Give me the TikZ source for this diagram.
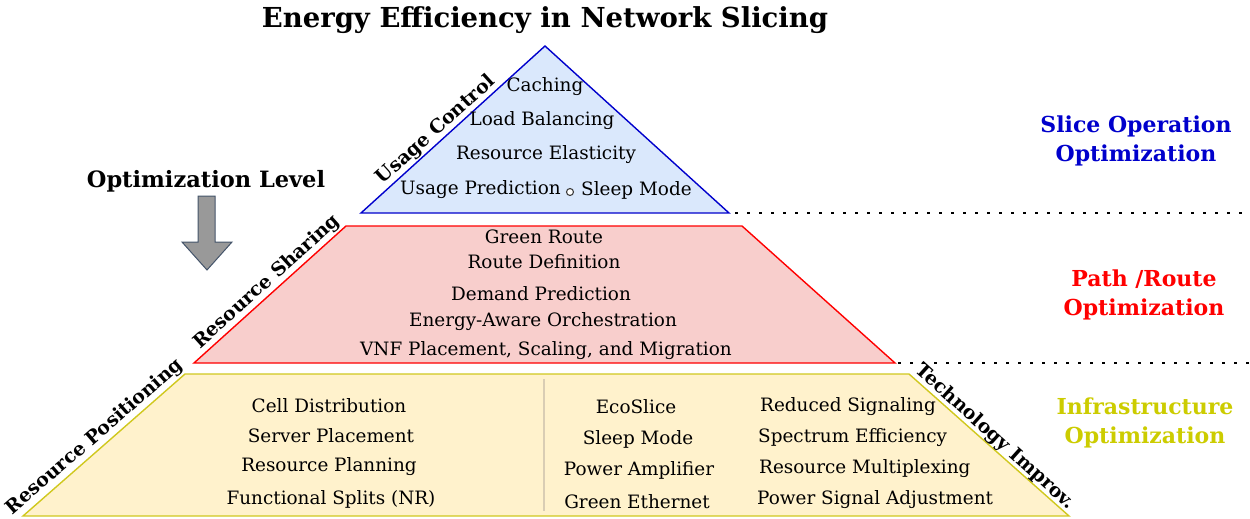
\documentclass[tikz,border=0pt]{standalone}
\usepackage{fontspec}
\setmainfont{DejaVu Serif}
\definecolor{blueline}{RGB}{0,0,204}
\definecolor{bluefill}{RGB}{218,232,252}
\definecolor{redline}{RGB}{255,0,0}
\definecolor{redfill}{RGB}{248,206,204}
\definecolor{yelline}{RGB}{208,200,30}
\definecolor{yelfill}{RGB}{255,242,204}
\definecolor{yeltext}{RGB}{204,204,0}
\definecolor{divider}{RGB}{217,205,180}
\definecolor{arrowfill}{RGB}{153,153,153}
\definecolor{arrowline}{RGB}{68,84,106}
\begin{document}
\begin{tikzpicture}[x=1pt,y=-1pt,
  item/.style={font=\fontsize{18.4}{21}\selectfont, inner sep=0pt},
  boldlabel/.style={font=\fontsize{19}{22}\selectfont\bfseries, inner sep=0pt},
  sidelabel/.style={font=\fontsize{22}{29}\selectfont\bfseries, align=center, inner sep=0pt},
  dotline/.style={line width=2.8pt, dash pattern=on 2.8pt off 9.2pt}
]
\useasboundingbox (0,0) rectangle (1250,519);

% title
\node[font=\fontsize{27.5}{32}\selectfont\bfseries, inner sep=0pt] (title) at (545,20) {Energy Efficiency in Network Slicing};

% tiers
\draw[blueline, fill=bluefill, line width=1.4pt] (361,213) -- (545,46) -- (729,213) -- cycle;
\draw[redline, fill=redfill, line width=1.4pt] (346,226) -- (742,226) -- (895,363) -- (194,363) -- cycle;
\draw[yelline, fill=yelfill, line width=1.4pt] (185,374) -- (909,374) -- (1069,516) -- (23,516) -- cycle;
\draw[divider, line width=2pt] (544,379) -- (544,511);

% dotted level lines
\coordinate (d1a) at (735,213);
\coordinate (d1b) at (1250,213);
\coordinate (d2a) at (898,363);
\coordinate (d2b) at (1250,363);
\draw[dotline] (d1a) -- (d1b);
\draw[dotline] (d2a) -- (d2b);

% blue items
\node[item] (b1) at (545,87) {Caching};
\node[item] (b2) at (542,121) {Load Balancing};
\node[item] (b3) at (546,155) {Resource Elasticity};
\node[item, anchor=east] (b4) at (561,190) {Usage Prediction};
\node[circle, draw=black!75, fill=white, line width=1.1pt, minimum size=7pt, inner sep=0pt] (bdot) at (570,192) {};
\node[item, anchor=west] (b5) at (581,190) {Sleep Mode};

% red items
\node[item] (r1) at (544,237) {Green Route};
\node[item] (r2) at (544,262) {Route Definition};
\node[item] (r3) at (541,294) {Demand Prediction};
\node[item] (r4) at (543,322) {Energy-Aware Orchestration};
\node[item] (r5) at (546,351) {VNF Placement, Scaling, and Migration};

% yellow items
\node[item] (y1) at (329,406) {Cell Distribution};
\node[item] (y2) at (331,436) {Server Placement};
\node[item] (y3) at (329,467) {Resource Planning};
\node[item] (y4) at (331,499) {Functional Splits (NR)};
\node[item] (y5) at (636,407) {EcoSlice};
\node[item] (y6) at (638,439) {Sleep Mode};
\node[item] (y7) at (639,470) {Power Amplifier};
\node[item] (y8) at (637,502) {Green Ethernet};
\node[item, anchor=west] (y9) at (760,407) {Reduced Signaling};
\node[item, anchor=west] (y10) at (758,438) {Spectrum Efficiency};
\node[item, anchor=west] (y11) at (759,469) {Resource Multiplexing};
\node[item, anchor=west] (y12) at (757,500) {Power Signal Adjustment};

% slanted labels
\node[boldlabel, rotate=42] (l1) at (436,130) {Usage Control};
\node[boldlabel, rotate=42] (l2) at (267,282) {Resource Sharing};
\node[boldlabel, rotate=41] (l3) at (95,437) {Resource Positioning};
\node[boldlabel, rotate=-42] (l4) at (995,437) {Technology Improv.};

% optimization level
\node[font=\fontsize{22.5}{26}\selectfont\bfseries, inner sep=0pt] (optlvl) at (206,181) {Optimization Level};
\draw[arrowline, fill=arrowfill, line width=1pt] (198,196) -- (215,196) -- (215,242) -- (232,242) -- (207,270) -- (182,242) -- (198,242) -- cycle;

% side labels
\node[sidelabel, text=blueline] (s1) at (1136,141) {Slice Operation\\Optimization};
\node[sidelabel, text=redline] (s2) at (1144,295) {Path /Route\\Optimization};
\node[sidelabel, text=yeltext] (s3) at (1145,423) {Infrastructure\\Optimization};
\end{tikzpicture}
\end{document}
